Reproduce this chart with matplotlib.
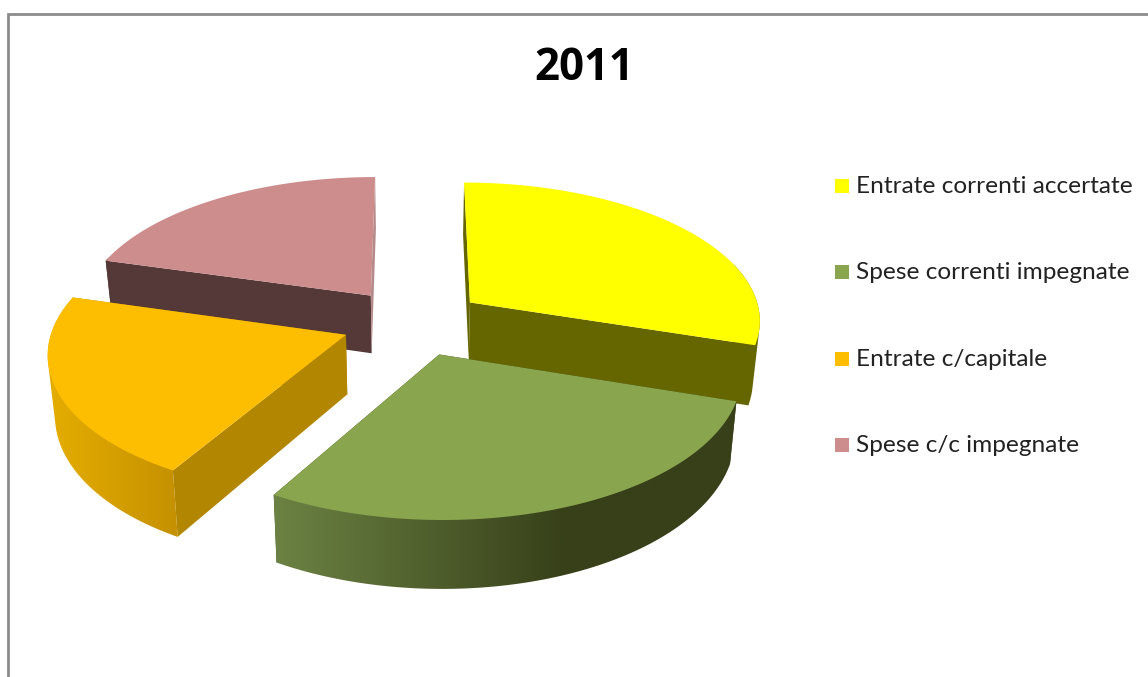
import numpy as np
import matplotlib
matplotlib.use("Agg")
import matplotlib.pyplot as plt
from matplotlib.colors import to_rgb
from matplotlib.patches import Polygon, Rectangle

title = "2011"
labels = ["Entrate correnti accertate", "Spese correnti impegnate",
          "Entrate c/capitale", "Spese c/c impegnate"]
shares = [30.0, 28.4, 21.0, 20.6]
top_colors = ["#FFFF00", "#89A54E", "#FDBD00", "#CE8D8D"]
side_colors = ["#666600", "#374219", "#B38600", "#553939"]
end_colors = ["#666600", "#374219", "#B38600", "#B58A8A"]
rim_left = ["#666600", "#6C8344", "#E6AE00", "#553939"]
rim_right = ["#666600", "#374019", "#C49000", "#553939"]
rim_stop = [1.0, 0.63, 1.0, 1.0]
draw_order = [3, 0, 2, 1]

# pie projection, in pixels
CX, CY = 413, 322
RX, RY = 292, 138.1
EXPLODE = 0.245
PERSP = 0.1163
DEPTH = 59
BASE_X, BASE_Y = 0.98, 1.05


def project(x, y):
    w = 1 + PERSP * y
    return RX * x / w, -RY * y / w


def hull(points):
    # monotone chain, the rim silhouette is the hull of both arcs
    points = sorted(set(points))

    def half(pts):
        out = []
        for p in pts:
            while len(out) > 1 and ((out[-1][0] - out[-2][0]) * (p[1] - out[-2][1])
                                    - (out[-1][1] - out[-2][1]) * (p[0] - out[-2][0])) <= 0:
                out.pop()
            out.append(p)
        return out[:-1]

    return half(points) + half(points[::-1])


def draw_slice(ax, i, a0, a1, z):
    t = np.radians(np.linspace(a0, a1, 200))
    mid = np.radians((a0 + a1) / 2)
    ex, ey = EXPLODE * np.cos(mid), EXPLODE * np.sin(mid)

    sx, sy = project(ex + np.cos(t), ey + np.sin(t))
    px, py = project(ex, ey)
    xt, yt = CX + sx, CY + sy
    xb, yb = CX + sx * BASE_X, CY + DEPTH + sy * BASE_Y
    x0, y0 = CX + px, CY + py
    x1, y1 = CX + px * BASE_X, CY + DEPTH + py * BASE_Y

    # straight walls running from the centre to the rim
    for k, col in ((0, side_colors[i]), (-1, end_colors[i])):
        wall = [(x0, y0), (xt[k], yt[k]), (xb[k], yb[k]), (x1, y1)]
        ax.add_patch(Polygon(wall, fc=col, ec="none", zorder=z))

    # curved rim, shaded left to right, only its front part can be seen
    front = np.sin(t) < 0.3
    if front.sum() > 1:
        pts = list(zip(xt[front], yt[front])) + list(zip(xb[front], yb[front]))
        rim = Polygon(hull(pts), fc="none", ec="none", zorder=z)
        ax.add_patch(rim)
        f = np.clip(np.linspace(0, 1, 256) / rim_stop[i], 0, 1)[None, :, None]
        shade = np.array(to_rgb(rim_left[i])) * (1 - f) + np.array(to_rgb(rim_right[i])) * f
        im = ax.imshow(shade, extent=(min(xt.min(), xb.min()) - 2, max(xt.max(), xb.max()) + 2,
                                      yb.max() + 2, yt.min() - 2),
                       aspect="auto", interpolation="bilinear", zorder=z + 0.1)
        im.set_clip_path(rim)

    top = [(x0, y0)] + list(zip(xt, yt))
    ax.add_patch(Polygon(top, fc=top_colors[i], ec="none", zorder=z + 0.5))


fig = plt.figure(figsize=(11.48, 6.77), dpi=100)
ax = fig.add_axes([0, 0, 1, 1])

# chart frame, only the top and left edges are in view
ax.plot([8, 8, 1148], [677, 13.5, 13.5], color="#8C8C8C", lw=2, solid_joinstyle="miter")

ends = 90 - np.cumsum(shares) * 3.6
starts = np.concatenate(([90], ends[:-1]))
for z, i in enumerate(draw_order):
    draw_slice(ax, i, starts[i], ends[i], z + 2)

ax.text(584, 68, title, ha="center", va="center", fontsize=31.5, fontweight="bold",
        family="Open Sans", color="black")

legend_y = [186, 272, 358.5, 445]
for lab, col, y in zip(labels, top_colors, legend_y):
    ax.add_patch(Rectangle((835, y - 7), 14, 14, fc=col, ec="none"))
    ax.text(856, y + 0.5, lab, ha="left", va="center", fontsize=17.6, family="Lato", color="#222222")

ax.set_xlim(0, 1148)
ax.set_ylim(677, 0)
ax.axis("off")

fig.savefig("out.png", dpi=100)
